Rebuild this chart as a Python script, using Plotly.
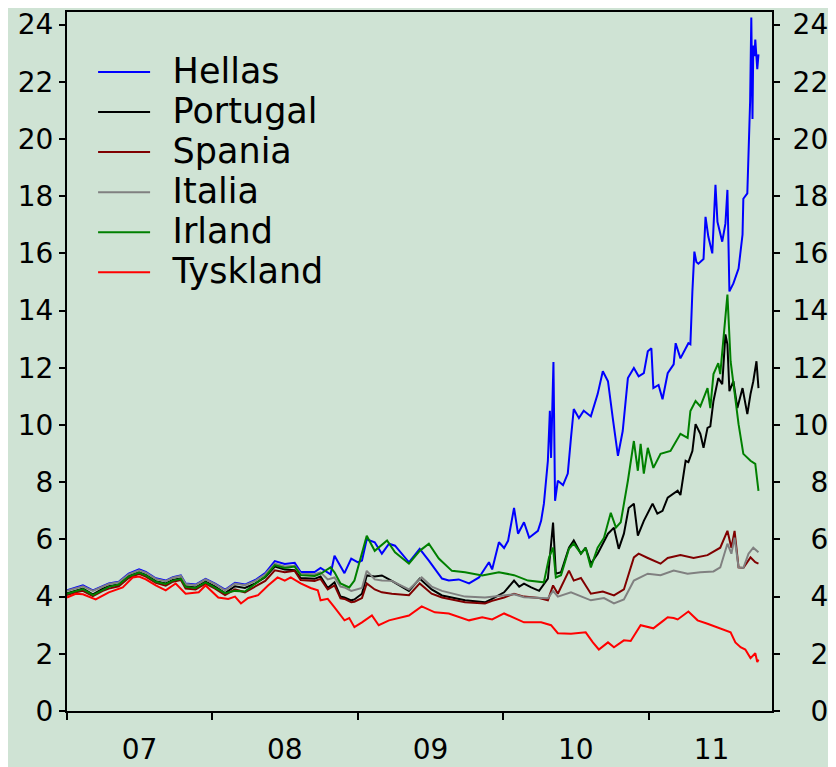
import plotly.graph_objects as go

# ---------------- data (10-year government bond yields, %) ----------------
hellas_dates = ["2007-01-01","2007-01-23","2007-02-10","2007-03-07","2007-04-01","2007-04-16","2007-05-11","2007-06-05","2007-07-01","2007-07-18","2007-08-12","2007-09-06","2007-09-24","2007-10-14","2007-10-26","2007-11-20","2007-12-15",
"2008-01-08","2008-02-02","2008-02-27","2008-03-23","2008-04-18","2008-05-13","2008-06-06","2008-07-01","2008-07-26","2008-08-10","2008-09-14","2008-09-29","2008-10-24","2008-11-03","2008-11-18","2008-11-28","2008-12-15",
"2009-01-01","2009-01-11","2009-01-23","2009-02-12","2009-03-02","2009-03-20","2009-04-04","2009-05-09","2009-06-05","2009-06-28","2009-07-31","2009-08-17","2009-09-11","2009-10-07","2009-11-01","2009-11-26","2009-12-04","2009-12-21",
"2010-01-03","2010-01-13","2010-01-28","2010-02-07","2010-02-22","2010-03-07","2010-03-29","2010-04-06","2010-04-13","2010-04-23","2010-04-28","2010-05-01","2010-05-07","2010-05-11","2010-05-18","2010-05-31","2010-06-12","2010-06-20","2010-06-27","2010-07-10","2010-07-22","2010-08-09","2010-08-26","2010-09-08","2010-09-21","2010-10-03","2010-10-16","2010-10-28","2010-11-10","2010-11-25","2010-12-07","2010-12-20","2010-12-30",
"2011-01-08","2011-01-13","2011-01-26","2011-02-05","2011-02-18","2011-03-05","2011-03-10","2011-03-22","2011-04-11","2011-04-16","2011-04-21","2011-04-26","2011-05-01","2011-05-06","2011-05-19","2011-05-24","2011-05-31","2011-06-10","2011-06-18","2011-06-23","2011-07-05","2011-07-13","2011-07-18","2011-07-23","2011-08-02","2011-08-15","2011-08-25","2011-08-27","2011-09-06","2011-09-09","2011-09-13","2011-09-16","2011-09-19","2011-09-21","2011-09-24","2011-09-26","2011-10-01","2011-10-04"]
hellas = [4.22,4.32,4.39,4.22,4.38,4.46,4.52,4.80,4.95,4.86,4.64,4.56,4.68,4.74,4.46,4.42,4.62,
4.45,4.24,4.48,4.42,4.58,4.82,5.24,5.14,5.18,4.86,4.86,5.00,4.78,5.43,5.05,4.82,5.33,
5.20,5.26,6.00,5.90,5.50,5.85,5.78,5.20,5.67,5.26,4.63,4.56,4.60,4.46,4.67,5.20,4.95,5.90,
5.70,5.95,7.10,6.20,6.60,6.06,6.30,6.65,7.25,8.75,10.50,8.85,12.20,7.35,8.05,7.90,8.30,9.55,10.56,10.24,10.50,10.30,11.08,11.88,11.53,10.24,8.92,9.79,11.64,11.99,11.70,11.81,12.58,
12.68,11.29,11.40,10.90,11.81,12.12,12.86,12.33,12.86,12.82,14.67,16.06,15.70,15.64,15.80,17.28,16.59,16.00,18.40,17.10,16.41,17.04,18.22,14.67,14.95,15.47,16.66,17.91,18.10,19.55,21.30,24.25,20.70,23.27,22.90,23.48,22.44,22.96]

portugal_dates = ["2007-01-01","2007-01-23","2007-02-10","2007-03-07","2007-04-01","2007-04-16","2007-05-11","2007-06-05","2007-07-01","2007-07-18","2007-08-12","2007-09-06","2007-09-24","2007-10-14","2007-10-26","2007-11-20","2007-12-15",
"2008-01-08","2008-02-02","2008-02-27","2008-03-23","2008-04-18","2008-05-13","2008-06-06","2008-07-01","2008-07-26","2008-08-10","2008-09-14","2008-09-29","2008-10-17","2008-11-03","2008-11-18","2008-11-28","2008-12-15","2008-12-23",
"2009-01-11","2009-01-23","2009-02-12","2009-03-02","2009-03-27","2009-05-09","2009-06-05","2009-07-05","2009-07-31","2009-09-27","2009-11-16","2009-12-04",
"2010-01-03","2010-01-28","2010-02-10","2010-02-22","2010-03-12","2010-04-01","2010-04-23","2010-05-06","2010-05-13","2010-05-26","2010-06-15","2010-06-27","2010-07-15","2010-07-27","2010-08-09","2010-08-26","2010-09-21","2010-10-06","2010-10-18","2010-10-31","2010-11-12","2010-11-25","2010-12-05","2010-12-20",
"2011-01-11","2011-01-23","2011-02-05","2011-02-18","2011-03-15","2011-03-22","2011-04-04","2011-04-11","2011-04-21","2011-04-29","2011-05-11","2011-05-19","2011-05-29","2011-06-05","2011-06-13","2011-06-25","2011-07-05","2011-07-13","2011-07-18","2011-07-23","2011-08-02","2011-08-12","2011-08-25","2011-09-06","2011-09-14","2011-09-21","2011-09-29","2011-10-04"]
portugal = [4.12,4.22,4.28,4.08,4.28,4.36,4.42,4.72,4.85,4.76,4.54,4.46,4.58,4.64,4.36,4.32,4.52,
4.35,4.12,4.36,4.30,4.46,4.68,5.05,4.95,4.92,4.65,4.62,4.70,4.30,4.50,4.00,3.97,3.87,3.90,
4.10,4.74,4.70,4.74,4.55,4.20,4.63,4.25,4.04,3.87,3.80,3.92,
4.15,4.56,4.35,4.45,4.32,4.20,4.63,6.59,4.80,4.85,5.71,5.96,5.50,5.71,5.15,5.50,6.20,6.41,5.67,6.20,7.10,7.25,6.13,6.65,
7.25,6.90,7.00,7.46,7.70,7.55,8.75,8.70,9.09,10.03,9.69,9.20,9.90,9.95,10.84,11.64,11.43,13.17,12.82,11.18,11.53,10.59,11.29,10.38,11.08,11.53,12.23,11.29]

spania_dates = ["2007-01-01","2007-01-23","2007-02-10","2007-03-07","2007-04-01","2007-04-16","2007-05-11","2007-06-05","2007-07-01","2007-07-18","2007-08-12","2007-09-06","2007-09-24","2007-10-14","2007-10-26","2007-11-20","2007-12-15",
"2008-01-08","2008-02-02","2008-02-27","2008-03-23","2008-04-18","2008-05-13","2008-06-06","2008-07-01","2008-07-26","2008-08-10","2008-09-14","2008-09-29","2008-10-17","2008-11-03","2008-11-18","2008-11-28","2008-12-15","2008-12-23",
"2009-01-11","2009-01-23","2009-02-12","2009-03-02","2009-03-27","2009-05-09","2009-06-05","2009-07-05","2009-07-31","2009-09-27","2009-11-16","2009-12-04",
"2010-01-03","2010-01-28","2010-02-22","2010-03-12","2010-04-01","2010-04-23","2010-05-06","2010-05-18","2010-06-15","2010-06-27","2010-07-15","2010-08-09","2010-09-08","2010-10-06","2010-10-31","2010-11-25","2010-12-07","2010-12-30",
"2011-01-31","2011-02-18","2011-03-22","2011-04-24","2011-05-29","2011-06-30","2011-07-18","2011-07-28","2011-08-05","2011-08-15","2011-08-27","2011-09-14","2011-09-26","2011-10-04"]
spania = [4.05,4.15,4.20,4.02,4.20,4.28,4.36,4.65,4.80,4.70,4.48,4.38,4.52,4.58,4.28,4.25,4.45,
4.28,4.05,4.25,4.15,4.35,4.55,4.92,4.85,4.90,4.58,4.55,4.62,4.25,4.39,3.94,3.92,3.80,3.82,
3.95,4.46,4.25,4.15,4.10,4.05,4.46,4.10,3.97,3.80,3.76,3.85,
3.97,4.10,4.00,3.98,3.95,3.87,4.39,4.10,4.91,4.56,4.65,4.10,4.18,4.04,4.25,5.37,5.50,5.35,
5.15,5.35,5.45,5.35,5.45,5.71,6.30,5.71,6.30,5.02,5.00,5.37,5.20,5.15]

italia_dates = ["2007-01-01","2007-01-23","2007-02-10","2007-03-07","2007-04-01","2007-04-16","2007-05-11","2007-06-05","2007-07-01","2007-07-18","2007-08-12","2007-09-06","2007-09-24","2007-10-14","2007-10-26","2007-11-20","2007-12-15",
"2008-01-08","2008-02-02","2008-02-27","2008-03-23","2008-04-18","2008-05-13","2008-06-06","2008-07-01","2008-07-26","2008-08-10","2008-09-14","2008-09-29","2008-10-17","2008-11-03","2008-11-18","2008-11-28","2008-12-15",
"2009-01-11","2009-01-23","2009-02-12","2009-03-02","2009-03-27","2009-05-09","2009-06-10","2009-07-05","2009-07-31","2009-09-27","2009-11-16","2009-12-04",
"2010-01-03","2010-01-28","2010-02-22","2010-03-29","2010-04-23","2010-05-06","2010-05-18","2010-06-20","2010-08-09","2010-09-11","2010-10-06","2010-10-31","2010-11-25","2010-12-30",
"2011-01-31","2011-03-05","2011-04-09","2011-05-11","2011-06-13","2011-06-30","2011-07-18","2011-07-28","2011-08-05","2011-08-15","2011-08-27","2011-09-09","2011-09-21","2011-10-04"]
italia = [4.20,4.30,4.36,4.20,4.36,4.44,4.50,4.78,4.92,4.84,4.62,4.54,4.66,4.72,4.44,4.40,4.60,
4.44,4.22,4.46,4.40,4.55,4.78,5.15,5.05,5.08,4.80,4.78,4.85,4.60,4.67,4.35,4.32,4.20,
4.30,4.90,4.60,4.56,4.55,4.25,4.67,4.35,4.20,4.00,3.97,4.00,
4.05,4.08,3.98,3.95,3.94,4.20,4.00,4.15,3.87,3.95,3.76,3.90,4.56,4.80,
4.75,4.91,4.80,4.85,4.88,5.02,5.85,5.50,6.06,5.02,5.00,5.50,5.71,5.55]

irland_dates = ["2007-01-01","2007-01-23","2007-02-10","2007-03-07","2007-04-01","2007-04-16","2007-05-11","2007-06-05","2007-07-01","2007-07-18","2007-08-12","2007-09-06","2007-09-24","2007-10-14","2007-10-26","2007-11-20","2007-12-15",
"2008-01-08","2008-02-02","2008-02-27","2008-03-23","2008-04-18","2008-05-13","2008-06-06","2008-07-01","2008-07-26","2008-08-10","2008-09-14","2008-09-29","2008-10-24","2008-11-03","2008-11-18","2008-12-10","2008-12-23",
"2009-01-23","2009-02-12","2009-03-15","2009-04-04","2009-05-09","2009-06-05","2009-06-28","2009-07-23","2009-08-25","2009-09-27","2009-11-09","2009-12-21",
"2010-01-28","2010-03-04","2010-04-13","2010-04-26","2010-05-06","2010-05-13","2010-05-26","2010-06-15","2010-06-27","2010-07-15","2010-07-27","2010-08-09","2010-08-26","2010-09-11","2010-09-28","2010-10-11","2010-10-23","2010-11-10","2010-11-25","2010-12-05","2010-12-12","2010-12-20","2010-12-30",
"2011-01-13","2011-01-31","2011-02-25","2011-03-22","2011-04-09","2011-04-16","2011-04-29","2011-05-11","2011-05-29","2011-06-05","2011-06-13","2011-06-25","2011-06-30","2011-07-13","2011-07-18","2011-07-26","2011-08-07","2011-08-15","2011-08-27","2011-09-14","2011-09-26","2011-10-04"]
irland = [4.10,4.20,4.26,4.05,4.25,4.34,4.42,4.70,4.84,4.74,4.52,4.44,4.56,4.62,4.34,4.30,4.50,
4.32,4.12,4.20,4.18,4.45,4.70,5.10,5.00,5.05,4.75,4.72,4.80,5.02,4.85,4.46,4.32,4.56,
6.13,5.60,5.96,5.55,5.15,5.60,5.85,5.33,4.90,4.85,4.74,4.85,
4.75,4.56,4.50,5.37,5.71,4.67,4.75,5.67,5.85,5.50,5.70,5.02,5.71,6.06,6.93,6.41,6.60,8.05,9.44,8.40,9.34,8.30,9.20,
8.50,8.99,9.09,9.69,9.55,10.49,10.84,10.65,11.29,10.59,11.78,12.16,11.78,13.73,14.56,12.23,10.84,10.03,8.99,8.75,8.64,7.70]

tyskland_dates = ["2007-01-01","2007-01-23","2007-02-10","2007-03-14","2007-04-16","2007-05-21","2007-06-15","2007-07-01","2007-07-18","2007-08-12","2007-09-06","2007-10-01","2007-10-26","2007-11-28","2007-12-15",
"2008-01-16","2008-02-10","2008-02-27","2008-03-13","2008-03-31","2008-04-25","2008-05-20","2008-06-13","2008-07-01","2008-07-16","2008-08-10","2008-09-04","2008-09-22","2008-09-29","2008-10-17","2008-11-03","2008-11-28","2008-12-10","2008-12-23",
"2009-01-11","2009-02-05","2009-02-22","2009-03-20","2009-05-09","2009-06-10","2009-07-13","2009-08-17","2009-10-07","2009-11-09","2009-12-04",
"2010-01-03","2010-02-22","2010-04-06","2010-05-01","2010-05-18","2010-06-20","2010-07-27","2010-08-14","2010-08-29","2010-09-21","2010-10-06","2010-10-31","2010-11-17","2010-12-12","2010-12-30",
"2011-01-13","2011-02-08","2011-02-18","2011-03-05","2011-03-15","2011-04-11","2011-05-04","2011-05-29","2011-06-30","2011-07-26","2011-08-07","2011-08-20","2011-09-01","2011-09-14","2011-09-26","2011-10-01","2011-10-04"]
tyskland = [3.97,4.10,4.08,3.90,4.15,4.32,4.67,4.70,4.60,4.39,4.22,4.46,4.10,4.15,4.39,
3.97,3.92,4.00,3.76,3.95,4.05,4.39,4.67,4.56,4.67,4.46,4.30,4.22,3.87,3.92,3.62,3.17,3.25,2.93,
3.10,3.34,3.00,3.17,3.34,3.66,3.45,3.41,3.17,3.28,3.20,
3.41,3.10,3.10,3.00,2.72,2.70,2.75,2.40,2.15,2.40,2.23,2.47,2.45,3.00,2.95,
2.89,3.17,3.28,3.25,3.20,3.48,3.17,3.05,2.89,2.75,2.40,2.23,2.15,1.85,2.02,1.71,1.80]

series_names = ["Hellas", "Portugal", "Spania", "Italia", "Irland", "Tyskland"]
series_colors = ["#0000ff", "#000000", "#800000", "#808080", "#008000", "#ff0000"]

year_label_dates = ["2007-07-02", "2008-07-01", "2009-07-02", "2010-07-02", "2011-06-08"]
year_labels = ["07", "08", "09", "10", "11"]
y_ticks = list(range(0, 25, 2))

# ---------------- figure ----------------
BG = "#cfe3d4"
FAMILY = "DejaVu Sans, Verdana, sans-serif"
TICKFONT = dict(family=FAMILY, size=28, color="black")
Y_RANGE = [0, 24.44]

fig = go.Figure()
all_series = [(hellas_dates, hellas), (portugal_dates, portugal), (spania_dates, spania),
              (italia_dates, italia), (irland_dates, irland), (tyskland_dates, tyskland)]
for (d, v), name, col in zip(all_series, series_names, series_colors):
    fig.add_trace(go.Scatter(
        x=d, y=v, mode="lines", line=dict(color=col, width=2),
        name='<span style="font-size:35px">\u2002' + name + '</span>',
        hovertemplate=name + ": %{y:.2f}<extra></extra>"))

# helper trace so the right-hand axis is drawn
fig.add_trace(go.Scatter(x=hellas_dates[:1], y=[None], yaxis="y2", showlegend=False,
                         hoverinfo="skip", mode="lines"))

fig.update_layout(
    width=836, height=767,
    paper_bgcolor=BG, plot_bgcolor=BG,
    margin=dict(l=59, r=72, t=4, b=64),
    showlegend=True,
    legend=dict(x=0.037, y=0.950, xanchor="left", yanchor="top",
                bgcolor="rgba(0,0,0,0)", itemwidth=52,
                font=dict(family=FAMILY, size=28.5, color="black")),
    xaxis=dict(type="date", range=["2007-01-01", "2011-11-07"], automargin=False,
               tickmode="array", tickvals=year_label_dates, ticktext=year_labels,
               ticks="", ticklabelstandoff=12, tickfont=TICKFONT,
               ticklabeloverflow="allow",
               showgrid=False, zeroline=False,
               showline=True, linecolor="black", linewidth=2, mirror=True,
               minor=dict(ticks="outside", ticklen=7, tickwidth=2, tickcolor="black",
                          dtick="M12", tick0="2007-01-01", showgrid=False)),
    yaxis=dict(range=Y_RANGE, tickmode="array", tickvals=y_ticks, automargin=False,
               ticks="outside", ticklen=6, tickwidth=2, tickcolor="black",
               ticklabeloverflow="allow",
               tickfont=TICKFONT, showgrid=False, zeroline=False,
               showline=True, linecolor="black", linewidth=2),
    yaxis2=dict(range=Y_RANGE, overlaying="y", side="right", tickmode="array",
                automargin=False, ticklabelstandoff=7, ticklabeloverflow="allow",
                tickvals=y_ticks, ticktext=[("\u2007" + str(t)) if t < 10 else str(t) for t in y_ticks],
                ticks="outside", ticklen=6, tickwidth=2, tickcolor="black",
                tickfont=TICKFONT, showgrid=False, zeroline=False,
                showline=True, linecolor="black", linewidth=2),
)

fig.write_html("out.html")
